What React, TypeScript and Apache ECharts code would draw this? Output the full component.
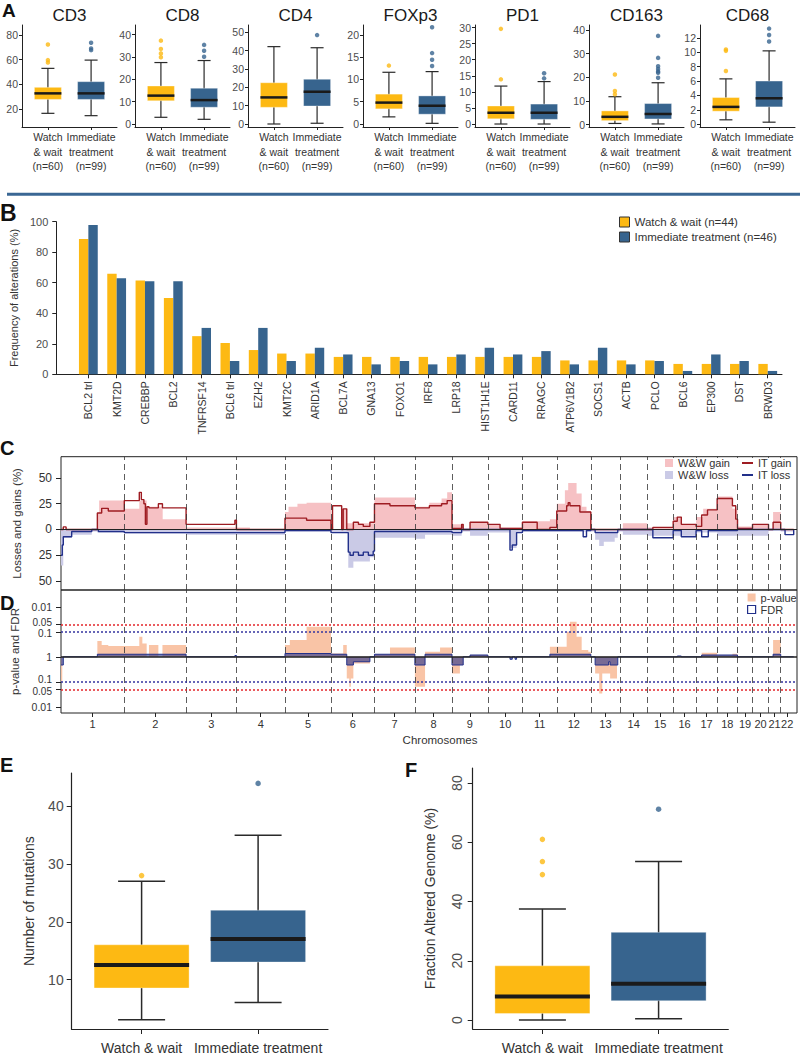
import React, { useEffect, useRef } from "react";
import * as echarts from "echarts";

const FONT = "'Liberation Sans', Arial, Helvetica, sans-serif";
const YELLOW = "#FDB913";
const BLUE = "#37648E";
const INK = "#222222";
const TXT = "#333333";
const GRAYTXT = "#4D4D4D";
const PINK = "#F6C1C4";
const LAVENDER = "#CACAE6";
const DARKRED = "#9E1C22";
const NAVY = "#22308A";
const SALMON = "#F9C4A6";
const DOT_RED = "#E3262B";
const DOT_BLUE = "#3535A0";

// ---------------- Panel A data ----------------
const markerNames = ["CD3", "CD8", "CD4", "FOXp3", "PD1", "CD163", "CD68"];
const groupLabelsA = ["Watch\n& wait\n(n=60)", "Immediate\ntreatment\n(n=99)"];
// [lower whisker, Q1, median, Q3, upper whisker]
const wwStatsA = [
  [16.5, 27.8, 32.7, 37.6, 53],
  [3.0, 10.4, 12.7, 17.0, 27.5],
  [0, 9.1, 14.5, 22.5, 42.2],
  [1.6, 3.4, 4.8, 6.7, 11.6],
  [0, 1.6, 3.5, 5.6, 11.8],
  [0.5, 1.7, 3.3, 5.8, 11.8],
  [0.6, 1.8, 2.4, 3.7, 6.3],
];
const itStatsA = [
  [14.6, 27.8, 32.7, 42.2, 59.7],
  [2.1, 7.5, 10.7, 16.0, 28.4],
  [0.4, 9.8, 17.6, 24.4, 41.6],
  [0.15, 2.2, 4.1, 6.3, 11.75],
  [0, 1.45, 3.5, 6.2, 13.2],
  [0.3, 2.4, 4.5, 8.9, 17.7],
  [0.27, 2.4, 3.6, 6.0, 10.2],
];
const wwOutliersA = [[72.4, 59.7, 57.8], [37.3, 33.6, 31.6, 29.9], [], [13.1], [29.6, 13.9], [21.2, 14.2, 12.8], [10.4, 10.2, 7.4]];
const itOutliersA = [[73.8, 69.2, 67.8], [44.6, 35.4, 32.8, 30.1], [48.5], [21.7, 15.9, 14.4, 13.0], [15.8, 14.2], [37.5, 28.2, 24.7, 23.5, 22.5, 21.9, 19.8], [13.3, 12.4, 11.5]];
const yTicksA = [[20, 40, 60, 80], [0, 10, 20, 30, 40], [0, 10, 20, 30, 40, 50], [0, 5, 10, 15, 20], [0, 5, 10, 15, 20, 25, 30], [0, 10, 20, 30, 40], [0, 2, 4, 6, 8, 10, 12]];
const yMinA = [5.4, -1.34, -1.64, -0.67, -0.93, -1.0, -0.4];
const yMaxA = [88.2, 44.3, 54.0, 22.2, 30.8, 42.1, 13.8];

// ---------------- Panel B data ----------------
const genes = ["BCL2 trl", "KMT2D", "CREBBP", "BCL2", "TNFRSF14", "BCL6 trl", "EZH2", "KMT2C", "ARID1A", "BCL7A", "GNA13", "FOXO1", "IRF8", "LRP18", "HIST1H1E", "CARD11", "RRAGC", "ATP6V1B2", "SOCS1", "ACTB", "PCLO", "BCL6", "EP300", "DST", "BRWD3"];
const wwFreq = [88.6, 65.9, 61.4, 50.0, 25.0, 20.5, 15.9, 13.6, 13.6, 11.4, 11.4, 11.4, 11.4, 11.4, 11.4, 11.4, 11.4, 9.1, 9.1, 9.1, 9.1, 6.8, 6.8, 6.8, 6.8];
const itFreq = [97.8, 63.0, 60.9, 60.9, 30.4, 8.7, 30.4, 8.7, 17.4, 13.0, 6.5, 8.7, 6.5, 13.0, 17.4, 13.0, 15.2, 6.5, 17.4, 6.5, 8.7, 2.2, 13.0, 8.7, 2.2];
const freqTicks = [0, 20, 40, 60, 80, 100];
const legendB = ["Watch & wait (n=44)", "Immediate treatment (n=46)"];

// ---------------- Panel C / D data ----------------
const chromosomes = ["1", "2", "3", "4", "5", "6", "7", "8", "9", "10", "11", "12", "13", "14", "15", "16", "17", "18", "19", "20", "21", "22"];
const chrLengthMb = [249, 243, 198, 191, 181, 171, 159, 146, 141, 136, 135, 134, 115, 107, 102, 90, 83, 80, 59, 63, 48, 51];
// step data: [genome position (Mb), value]; value holds until next position
const wwGain = [[0, 0], [143, 16], [150, 28], [249, 20], [308, 28], [337, 22], [400, 10], [492, 2], [690, 2], [743, 0], [881, 17], [895, 22], [930, 25], [966, 26], [1062, 3], [1071, 0], [1104, 20], [1124, 6], [1233, 31], [1392, 22], [1449, 26], [1497, 30], [1519, 36], [1538, 5], [1576, 0], [1609, 7], [1679, 5], [1727, 2], [1815, 8], [1923, 10], [1950, 25], [1982, 38], [1995, 45], [2028, 35], [2048, 22], [2067, 18], [2084, 0], [2210, 6], [2306, 2], [2408, 12], [2440, 5], [2498, 12], [2526, 20], [2581, 32], [2641, 20], [2661, 3], [2720, 5], [2783, 0], [2801, 17], [2831, 0], [2882, 0]];
const itGain = [[0, 0], [9, 2.5], [20, 0], [143, 16], [160, 20.5], [186, 18], [249, 28], [308, 36], [316, 29], [326, 25], [332, 5], [338, 22], [346, 21], [383, 25], [399, 21], [492, 5], [684, 9], [690, 0], [881, 11], [966, 9], [1062, 0], [1068, 23], [1104, 0], [1110, 20], [1124, 0], [1150, 7], [1170, 5], [1189, 3], [1215, 7], [1233, 25], [1294, 23], [1392, 21], [1449, 23], [1497, 25], [1519, 28], [1538, 1], [1576, 5], [1582, 0], [1609, 7], [1679, 5], [1727, 1], [1815, 7], [1873, 0], [1923, 2], [1950, 18], [1989, 23], [1995, 26], [2002, 23], [2041, 17], [2084, 0], [2328, 2], [2408, 8], [2424, 12], [2440, 5], [2498, 3], [2520, 14], [2543, 19], [2581, 30], [2641, 23], [2654, 10], [2661, 1], [2720, 5], [2783, 0], [2801, 7], [2831, 0], [2882, 0]];
const wwLoss = [[0, -35], [9, -8], [42, -5], [121, -2], [143, -3], [249, -4], [492, -5], [881, -2], [1062, -3], [1130, -37], [1150, -31], [1215, -27], [1233, -8], [1392, -9], [1432, -5], [1538, -6], [1576, -2], [1609, -6], [1679, -3], [1766, -18], [1792, -3], [1815, -2], [2084, -2], [2101, -10], [2117, -16], [2135, -12], [2178, -8], [2190, -2], [2210, -5], [2306, -6], [2498, -3], [2581, -6], [2783, -1], [2831, -2], [2882, 0]];
const itLoss = [[0, -25], [5, -15], [9, -7], [42, -2], [121, 0], [147, -2], [249, -3], [881, -1], [1062, -3], [1130, -22], [1137, -25], [1150, -22], [1170, -25], [1189, -22], [1209, -25], [1228, -21], [1233, -2], [1538, -3], [1576, 0], [1766, -20], [1775, -15], [1792, -3], [1815, -1], [2054, -7], [2067, -1], [2084, 0], [2101, -3], [2190, 0], [2328, -8], [2408, -1], [2440, -7], [2498, -1], [2520, -7], [2546, -1], [2581, -1], [2661, 0], [2848, -5], [2882, 0]];
const lossGainTicks = [-50, -25, 0, 25, 50];
// -log10 values, positive = upper half, negative = lower half
const pValue = [[0, -1.0], [5, 0], [143, 0.63], [160, 0.47], [186, 0.43], [308, 0.8], [320, 0.53], [337, 0], [346, 0.47], [383, 0], [399, 0.47], [492, 0], [881, 0.47], [900, 0.67], [966, 1.2], [1062, 0.13], [1110, 0.47], [1124, -0.87], [1134, -1.2], [1140, -0.87], [1150, -0.27], [1215, 0], [1233, 0.1], [1294, 0.37], [1392, -1.2], [1432, 0.2], [1491, 0.37], [1538, -0.67], [1569, -0.33], [1582, 0], [1609, 0.07], [1679, 0], [1923, 0.4], [1989, 1.0], [2002, 1.4], [2028, 0.8], [2048, 0.27], [2074, 0.2], [2084, 0], [2101, -0.67], [2117, -1.47], [2129, -0.67], [2160, -0.87], [2187, 0], [2520, 0.16], [2581, 0.05], [2641, 0.12], [2661, 0], [2801, 0.67], [2831, 0], [2882, 0]];
const fdrValue = [[0, -0.33], [9, 0], [143, 0.1], [492, 0], [684, 0.05], [690, 0], [881, 0.13], [1062, 0.1], [1124, -0.33], [1150, -0.2], [1215, 0], [1233, 0.1], [1392, -0.33], [1432, 0.1], [1538, -0.33], [1582, 0], [1609, 0.07], [1679, 0], [1766, -0.1], [1775, 0], [1786, -0.1], [1792, 0], [1923, 0.1], [2084, 0], [2101, -0.33], [2154, -0.2], [2160, -0.33], [2190, 0], [2424, 0.03], [2440, 0], [2520, 0.07], [2661, 0], [2801, 0.1], [2831, 0], [2882, 0]];
const pTickValues = [2, 1.301, 1, 0, -1, -1.301, -2];
const pTickLabels = ["0.01", "0.05", "0.1", "1", "0.1", "0.05", "0.01"];
const pTickNudge = ["n", "u", "d", "n", "u", "d", "n"]; // small vertical nudge of crowded labels
const pThreshold = 1.301; // p = 0.05
const fdrThreshold = 1; // FDR = 0.1

// ---------------- Panel E / F data ----------------
const groupLabelsEF = ["Watch & wait", "Immediate treatment"];
const mutStats = [[3, 8.5, 12.5, 16, 27], [6, 13, 17, 22, 35]];
const mutOutliers = [[28], [44]];
const mutTicks = [10, 20, 30, 40];
const fgaStats = [[0, 2.2, 7.9, 18.3, 37.5], [0.45, 6.5, 12.2, 29.6, 53.5]];
const fgaOutliers = [[61, 53.5, 49.1], [71.2]];
const fgaTicks = [0, 20, 40, 60, 80];

// ---------------- layout ----------------
const A_LEFTS = [22, 135, 248, 363, 475, 589, 700];
const A_TOP = 25;
const A_W = 95;
const A_H = 102;

function boxRenderer(boxW: number, capW: number, medW: number, whiskW: number, colors: string[]) {
  return (params: any, api: any) => {
    const idx = api.value(0);
    const lo = api.coord([idx, api.value(1)]);
    const q1 = api.coord([idx, api.value(2)]);
    const md = api.coord([idx, api.value(3)]);
    const q3 = api.coord([idx, api.value(4)]);
    const hi = api.coord([idx, api.value(5)]);
    const cx = lo[0];
    const ws = { stroke: "#2A2A2A", lineWidth: whiskW };
    return {
      type: "group",
      children: [
        { type: "line", shape: { x1: cx, y1: hi[1], x2: cx, y2: lo[1] }, style: ws },
        { type: "line", shape: { x1: cx - capW / 2, y1: hi[1], x2: cx + capW / 2, y2: hi[1] }, style: ws },
        { type: "line", shape: { x1: cx - capW / 2, y1: lo[1], x2: cx + capW / 2, y2: lo[1] }, style: ws },
        { type: "rect", shape: { x: cx - boxW / 2, y: q3[1], width: boxW, height: q1[1] - q3[1] }, style: { fill: colors[params.dataIndex], stroke: "rgba(255,255,255,0.35)", lineWidth: 1 } },
        { type: "line", shape: { x1: cx - boxW / 2, y1: md[1], x2: cx + boxW / 2, y2: md[1] }, style: { stroke: "#1A1A1A", lineWidth: medW } },
      ],
    };
  };
}

function buildOption() {
  const grid: any[] = [];
  const xAxis: any[] = [];
  const yAxis: any[] = [];
  const series: any[] = [];
  const graphic: any[] = [];

  const text = (t: string, x: number, y: number, font: string, fill: string, align = "center", vAlign = "middle") => ({
    type: "text", x, y, silent: true, z: 30,
    style: { text: t, font, fill, textAlign: align, textVerticalAlign: vAlign, align, verticalAlign: vAlign },
  });

  function frame(left: number, top: number, width: number, height: number, min: number, max: number, ticks: number[], o: any) {
    const gi = grid.length;
    grid.push({ left, top, width, height });
    xAxis.push({
      gridIndex: gi, type: "value", min: 0, max: 1,
      axisLine: { show: true, onZero: false, lineStyle: { color: INK, width: o.lineW || 1 } },
      axisTick: { show: false }, axisLabel: { show: false }, splitLine: { show: false },
    });
    yAxis.push({
      gridIndex: gi, type: "value", min, max,
      axisLine: { show: true, onZero: false, lineStyle: { color: INK, width: o.lineW || 1 } },
      axisTick: { show: true, customValues: ticks, length: o.tickLen, lineStyle: { color: INK } },
      axisLabel: { show: true, customValues: ticks, fontSize: o.fontSize, color: GRAYTXT, margin: o.labelMargin, rotate: o.rotate || 0 },
      splitLine: { show: false },
      name: o.name, nameLocation: "middle", nameGap: o.nameGap, nameTextStyle: { fontSize: o.nameSize, color: TXT },
    });
    return gi;
  }

  function inner(left: number, top: number, width: number, height: number, min: number, max: number, cats: string[], o: any) {
    const gi = grid.length;
    grid.push({ left, top, width, height });
    xAxis.push({
      gridIndex: gi, type: "category", data: cats, boundaryGap: true,
      axisLine: { show: false, onZero: false },
      axisTick: { show: true, alignWithLabel: true, length: o.tickLen, lineStyle: { color: INK } },
      axisLabel: { interval: 0, fontSize: o.fontSize, color: TXT, margin: o.margin, lineHeight: o.lineHeight, rotate: o.rotate || 0 },
      splitLine: { show: false },
    });
    yAxis.push({ gridIndex: gi, type: "value", min, max, show: false });
    return gi;
  }

  const boxSeries = (gi: number, stats: number[][], boxW: number, capW: number, medW: number, whiskW: number) => ({
    type: "custom", xAxisIndex: gi, yAxisIndex: gi, silent: true, z: 3,
    data: stats.map((s, i) => [i, ...s]),
    encode: { x: 0, y: [1, 2, 3, 4, 5] },
    renderItem: boxRenderer(boxW, capW, medW, whiskW, [YELLOW, BLUE]),
  });
  const outlierSeries = (gi: number, outs: number[][], size: number) => ({
    type: "scatter", xAxisIndex: gi, yAxisIndex: gi, silent: true, z: 4, symbolSize: size,
    data: outs.flatMap((arr, i) => arr.map((v) => ({ value: [i, v], itemStyle: { color: i === 0 ? YELLOW : BLUE } }))),
  });

  // ---------- A ----------
  graphic.push(text("A", 2, 10, `bold 19px ${FONT}`, "#111", "left"));
  markerNames.forEach((name, k) => {
    const left = A_LEFTS[k];
    frame(left, A_TOP, A_W, A_H, yMinA[k], yMaxA[k], yTicksA[k], { fontSize: 10.5, tickLen: 3, labelMargin: 4 });
    const gi = inner(left + A_W / 22, A_TOP, (A_W * 10) / 11, A_H, yMinA[k], yMaxA[k], groupLabelsA, { fontSize: 10.5, margin: 3, lineHeight: 14.5, tickLen: 3 });
    series.push(boxSeries(gi, [wwStatsA[k], itStatsA[k]], 27, 13, 2.5, 1.2));
    series.push(outlierSeries(gi, [wwOutliersA[k], itOutliersA[k]], 4.5));
    graphic.push(text(name, left + A_W / 2, 15, `17px ${FONT}`, "#1A1A1A"));
  });

  graphic.push({ type: "line", silent: true, shape: { x1: 7, y1: 194.3, x2: 800, y2: 194.3 }, style: { stroke: "#3A6794", lineWidth: 3 } });

  // ---------- B ----------
  graphic.push(text("B", 0, 212.5, `bold 23px ${FONT}`, "#111", "left"));
  frame(52, 221.7, 730, 152.6, 0, 100, freqTicks, { fontSize: 11, tickLen: 4, labelMargin: 8, name: "Frequency of alterations (%)", nameGap: 32, nameSize: 11 });
  const gB = inner(74.2, 221.7, 707.7, 152.6, 0, 100, genes, { fontSize: 10.5, margin: 7, tickLen: 4, rotate: 90 });
  series.push({ type: "bar", name: legendB[0], xAxisIndex: gB, yAxisIndex: gB, data: wwFreq, barWidth: 9.4, barGap: "0%", itemStyle: { color: YELLOW }, silent: true });
  series.push({ type: "bar", name: legendB[1], xAxisIndex: gB, yAxisIndex: gB, data: itFreq, barWidth: 9.4, barGap: "0%", itemStyle: { color: BLUE }, silent: true });

  // ---------- C / D shared ----------
  const chrStarts: number[] = [];
  let acc = 0;
  chrLengthMb.forEach((l) => { chrStarts.push(acc); acc += l; });
  const chrCenters = chrLengthMb.map((l, i) => chrStarts[i] + l / 2);
  const boundaries = chrStarts.slice(1);
  const X_MAX = 2895;
  const dashed = boundaries.map((b) => ({ xAxis: b, lineStyle: { color: "#333", type: [6, 4], width: 0.8 } }));

  // ---------- C ----------
  graphic.push(text("C", 0, 447.5, `bold 20px ${FONT}`, "#111", "left"));
  const gC = grid.length;
  grid.push({ left: 61, top: 456.7, width: 736, height: 133.3, show: true, borderColor: INK, borderWidth: 1, backgroundColor: "transparent" });
  xAxis.push({ gridIndex: gC, type: "value", min: 0, max: X_MAX, show: false, axisLine: { onZero: false } });
  yAxis.push({
    gridIndex: gC, type: "value", min: -58.7, max: 70.6,
    axisLine: { show: false, onZero: false },
    axisTick: { show: true, customValues: lossGainTicks, length: 5, lineStyle: { color: INK } },
    axisLabel: { customValues: lossGainTicks, formatter: (v: number) => String(Math.abs(v)), fontSize: 12, color: TXT, margin: 9 },
    splitLine: { show: false },
    name: "Losses and gains (%)", nameLocation: "middle", nameGap: 38, nameTextStyle: { fontSize: 11.5, color: TXT },
  });
  const stepArea = (name: string, data: number[][], color: string, gi: number) => ({
    type: "line", name, xAxisIndex: gi, yAxisIndex: gi, step: "end", data, symbol: "none", silent: true, z: 1,
    lineStyle: { width: 0, color }, itemStyle: { color }, areaStyle: { color, opacity: 1 },
  });
  const stepLine = (name: string, data: number[][], color: string, gi: number) => ({
    type: "line", name, xAxisIndex: gi, yAxisIndex: gi, step: "end", data, symbol: "none", silent: true, z: 2,
    lineStyle: { width: 1.4, color }, itemStyle: { color },
  });
  series.push(stepArea("W&W gain", wwGain, PINK, gC));
  series.push(stepArea("W&W loss", wwLoss, LAVENDER, gC));
  series.push(stepLine("IT gain", itGain, DARKRED, gC));
  const itLossSeries: any = stepLine("IT loss", itLoss, NAVY, gC);
  itLossSeries.markLine = {
    silent: true, symbol: ["none", "none"], label: { show: false }, animation: false,
    data: [...dashed, { yAxis: 0, lineStyle: { color: INK, type: "solid", width: 1 } }],
  };
  series.push(itLossSeries);

  // ---------- D ----------
  graphic.push(text("D", 0, 602.5, `bold 20px ${FONT}`, "#111", "left"));
  const gD = grid.length;
  grid.push({ left: 61, top: 590, width: 736, height: 123, show: true, borderColor: INK, borderWidth: 1, backgroundColor: "transparent" });
  xAxis.push({
    gridIndex: gD, type: "value", min: 0, max: X_MAX,
    axisLine: { show: false, onZero: false },
    axisTick: { show: true, customValues: chrCenters, length: 4, lineStyle: { color: INK } },
    axisLabel: {
      customValues: chrCenters, fontSize: 11, color: TXT, margin: 5, hideOverlap: false, showMinLabel: true, showMaxLabel: true,
      formatter: (v: number) => { const i = chrCenters.findIndex((c) => Math.abs(c - v) < 1e-6); return i >= 0 ? chromosomes[i] : ""; },
    },
    splitLine: { show: false },
  });
  yAxis.push({
    gridIndex: gD, type: "value", min: -2.25, max: 2.67,
    axisLine: { show: false, onZero: false },
    axisTick: { show: true, customValues: pTickValues, length: 5, lineStyle: { color: INK } },
    axisLabel: {
      customValues: pTickValues, color: TXT, margin: 9, hideOverlap: false,
      formatter: (v: number) => {
        const i = pTickValues.findIndex((c) => Math.abs(c - v) < 1e-6);
        return i >= 0 ? `{${pTickNudge[i]}|${pTickLabels[i]}}` : "";
      },
      rich: {
        n: { fontSize: 10.5, color: TXT },
        u: { fontSize: 10, color: TXT, padding: [0, 0, 4, 0] },
        d: { fontSize: 10, color: TXT, padding: [4, 0, 0, 0] },
      },
    },
    splitLine: { show: false },
    name: "p-value and FDR", nameLocation: "middle", nameGap: 38, nameTextStyle: { fontSize: 11.5, color: TXT },
  });
  series.push({
    type: "line", name: "p-value", xAxisIndex: gD, yAxisIndex: gD, step: "end", data: pValue, symbol: "none", silent: true, z: 1,
    lineStyle: { width: 0, color: SALMON }, itemStyle: { color: SALMON }, areaStyle: { color: SALMON, opacity: 1 },
  });
  series.push({
    type: "line", name: "FDR", xAxisIndex: gD, yAxisIndex: gD, step: "end", data: fdrValue, symbol: "none", silent: true, z: 2,
    lineStyle: { width: 1, color: NAVY }, itemStyle: { color: NAVY }, areaStyle: { color: "rgba(34,48,138,0.6)", opacity: 1 },
    markLine: {
      silent: true, symbol: ["none", "none"], label: { show: false }, animation: false,
      data: [
        ...dashed,
        { yAxis: pThreshold, lineStyle: { color: DOT_RED, type: [2, 2], width: 1.5 } },
        { yAxis: -pThreshold, lineStyle: { color: DOT_RED, type: [2, 2], width: 1.5 } },
        { yAxis: fdrThreshold, lineStyle: { color: DOT_BLUE, type: [2, 2], width: 1.5 } },
        { yAxis: -fdrThreshold, lineStyle: { color: DOT_BLUE, type: [2, 2], width: 1.5 } },
        { yAxis: 0, lineStyle: { color: INK, type: "solid", width: 1.5 } },
      ],
    },
  });
  graphic.push(text("Chromosomes", 440, 740, `11.5px ${FONT}`, TXT));

  // legend backgrounds
  graphic.push({ type: "rect", silent: true, z: 10, shape: { x: 660, y: 458, width: 136, height: 26 }, style: { fill: "#fff" } });
  graphic.push({ type: "rect", silent: true, z: 10, shape: { x: 745, y: 591, width: 51, height: 25 }, style: { fill: "#fff" } });

  // ---------- E ----------
  graphic.push(text("E", 0, 764.5, `bold 20px ${FONT}`, "#111", "left"));
  frame(71.7, 773, 256.3, 256.3, 1.39, 45.8, mutTicks, { fontSize: 14, tickLen: 5, labelMargin: 8, name: "Number of mutations", nameGap: 36, nameSize: 14, lineW: 1.2 });
  const gE = inner(71.7 + 256.3 / 22, 773, (256.3 * 10) / 11, 256.3, 1.39, 45.8, groupLabelsEF, { fontSize: 14, margin: 12, tickLen: 5 });
  series.push(boxSeries(gE, mutStats, 95, 47, 4, 1.5));
  series.push(outlierSeries(gE, mutOutliers, 5.5));

  // ---------- F ----------
  graphic.push(text("F", 405, 769.5, `bold 20px ${FONT}`, "#111", "left"));
  frame(472.7, 768, 255.6, 261, -3.04, 85.1, fgaTicks, { fontSize: 14, tickLen: 5, labelMargin: 9, rotate: 90, name: "Fraction Altered Genome (%)", nameGap: 36, nameSize: 14, lineW: 1.2 });
  const gF = inner(472.7 + 255.6 / 22, 768, (255.6 * 10) / 11, 261, -3.04, 85.1, groupLabelsEF, { fontSize: 14, margin: 12, tickLen: 5 });
  series.push(boxSeries(gF, fgaStats, 95, 47, 4, 1.5));
  series.push(outlierSeries(gF, fgaOutliers, 5.5));

  return {
    animation: false,
    backgroundColor: "#ffffff",
    textStyle: { fontFamily: FONT },
    grid, xAxis, yAxis, series, graphic,
    legend: [
      {
        data: legendB, left: 619, top: 216, orient: "vertical", itemWidth: 10, itemHeight: 10, itemGap: 3, icon: "rect",
        itemStyle: { borderColor: "#333", borderWidth: 1 }, textStyle: { fontSize: 11.5, color: TXT }, padding: 0, selectedMode: false,
      },
      {
        data: ["W&W gain", "W&W loss"], left: 665, top: 457.5, orient: "vertical", itemWidth: 8, itemHeight: 8, itemGap: 1, icon: "rect",
        textStyle: { fontSize: 11, color: TXT }, padding: 0, z: 20, selectedMode: false,
      },
      {
        data: ["IT gain", "IT loss"], left: 742, top: 457.5, orient: "vertical", itemWidth: 11, itemHeight: 2, itemGap: 1, icon: "rect",
        textStyle: { fontSize: 11, color: TXT }, padding: 0, z: 20, selectedMode: false,
      },
      {
        data: ["p-value", { name: "FDR", itemStyle: { color: "#fff", borderColor: NAVY, borderWidth: 1.2 } }],
        left: 747, top: 592, orient: "vertical", itemWidth: 8, itemHeight: 8, itemGap: 1, icon: "rect",
        textStyle: { fontSize: 11, color: TXT }, padding: 0, z: 20, selectedMode: false,
      },
    ],
  };
}

export default function App() {
  const ref = useRef<HTMLDivElement>(null);
  useEffect(() => {
    const chart = echarts.init(ref.current as HTMLDivElement, null, { renderer: "svg" });
    chart.setOption(buildOption() as any);
    return () => chart.dispose();
  }, []);
  return <div ref={ref} style={{ position: "absolute", left: 0, top: 0, width: 800, height: 1055, background: "#fff" }} />;
}
